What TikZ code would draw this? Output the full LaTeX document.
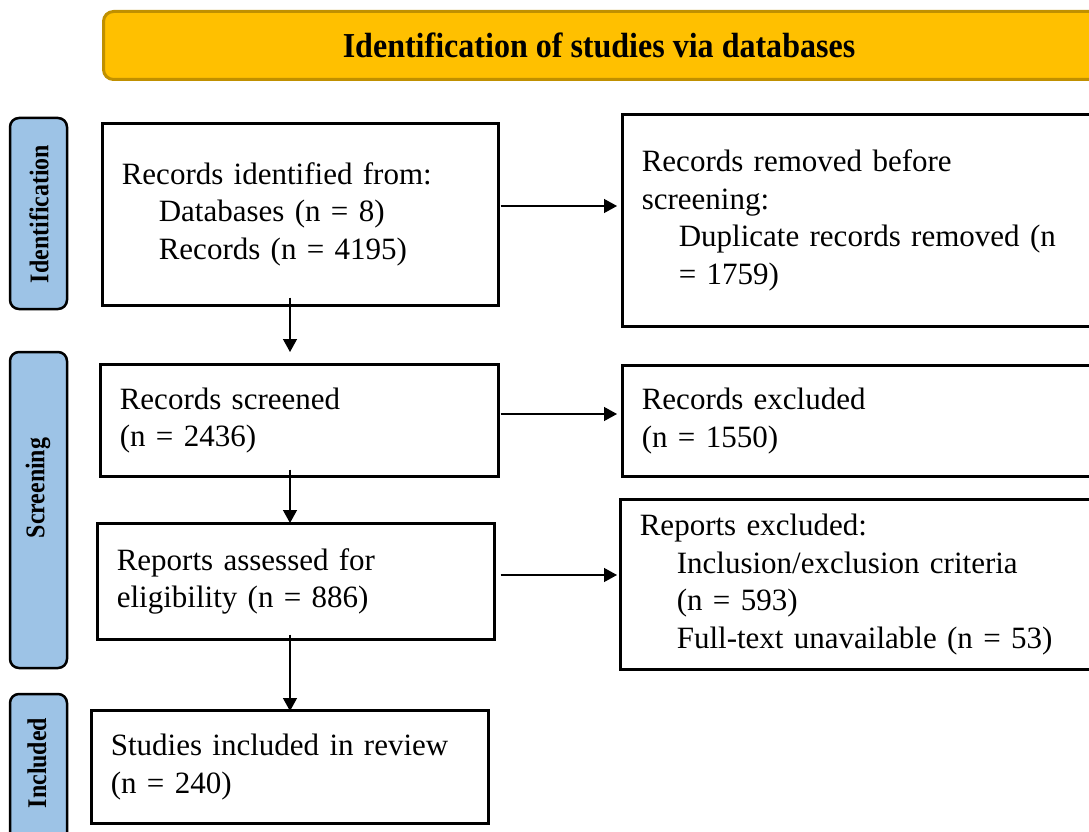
\documentclass[tikz,border=0pt]{standalone}
\usepackage{fontspec}
\setmainfont{Liberation Serif}
\usetikzlibrary{arrows.meta,calc}

\definecolor{bannerfill}{HTML}{FFC000}
\definecolor{bannerline}{HTML}{C09000}
\definecolor{stagefill}{HTML}{9DC3E6}

\tikzset{
  box/.style={draw=black, line width=2.6pt, rectangle, align=left, anchor=north west,
    inner xsep=19.5pt, inner ysep=0pt, font=\fontsize{31}{37.5}\selectfont},
  stagebar/.style={draw=black, fill=stagefill, line width=2.5pt, rounded corners=9pt,
    minimum width=57pt, inner sep=0pt},
  stagelabel/.style={rotate=90, inner sep=0pt, font=\bfseries\fontsize{27}{30}\selectfont},
  flow/.style={line width=1.3pt, -{Triangle[length=13pt,width=14pt]}},
}

\begin{document}
\begin{tikzpicture}[x=1pt, y=-1pt]
  \useasboundingbox (0,0) rectangle (1089,832);
  \clip (0,0) rectangle (1089,832);

  % header banner
  \node[draw=bannerline, fill=bannerfill, line width=3pt, rounded corners=10pt,
        minimum width=1030pt, minimum height=68pt, anchor=north west, inner sep=0pt]
        (banner) at (102,10) {};
  \node[font=\bfseries\fontsize{35}{38}\selectfont, inner sep=0pt] (title) at (599,45)
        {\scalebox{0.915}[1]{Identification of studies via databases}};

  % stage bars on the left
  \node[stagebar, minimum height=191pt] (idbar) at (38.5,213.5) {};
  \node[stagebar, minimum height=316pt] (scbar) at (38.5,510) {};
  \node[stagebar, minimum height=160pt] (inbar) at (38.5,774) {};
  \node[stagelabel] (idlab) at (39,214) {\scalebox{0.885}[1]{Identification}};
  \node[stagelabel] (sclab) at (38,488) {\scalebox{0.885}[1]{Screening}};
  \node[stagelabel] (inlab) at (37,763) {\scalebox{0.885}[1]{Included}};

  % flow boxes
  \node[box, text width=357pt, minimum height=182pt] (ident) at (101,122)
    {Records identified from:\\
     \hspace*{37pt}Databases (n = 8)\\
     \hspace*{37pt}Records (n = 4195)};
  \node[box, text width=450pt, minimum height=212pt] (removed) at (621,113)
    {Records removed before\\
     screening:\\
     \hspace*{37pt}Duplicate records removed (n\\
     \hspace*{37pt}= 1759)};
  \node[box, text width=359pt, minimum height=112pt] (screened) at (99,363)
    {Records screened\\
     (n = 2436)};
  \node[box, text width=450pt, minimum height=111pt] (excluded) at (621,364)
    {Records excluded\\
     (n = 1550)};
  \node[box, text width=358pt, minimum height=116pt] (assessed) at (96,522)
    {Reports assessed for\\
     eligibility (n = 886)};
  \node[box, text width=452pt, minimum height=170pt] (repexcl) at (619,498)
    {Reports excluded:\\
     \hspace*{37pt}Inclusion/exclusion criteria\\
     \hspace*{37pt}(n = 593)\\
     \hspace*{37pt}Full-text unavailable (n = 53)};
  \node[box, text width=358pt, minimum height=113pt] (included) at (90,709)
    {Studies included in review\\
     (n = 240)};

  % connectors
  \coordinate (spine) at (290,0);
  \coordinate (row1) at (0,206);
  \coordinate (row2) at (0,414);
  \coordinate (row3) at (0,575);

  \draw[flow] ($(spine |- ident.south)+(0,-9)$) -- ($(spine |- screened.north)+(0,-11)$);
  \draw[flow] ($(spine |- screened.south)+(0,-8)$) -- ($(spine |- assessed.north)+(0,1)$);
  \draw[flow] ($(spine |- assessed.south)+(0,-6)$) -- ($(spine |- included.north)+(0,2)$);

  \draw[flow] ($(ident.east |- row1)+(1,0)$) -- ($(removed.west |- row1)+(-4,0)$);
  \draw[flow] ($(screened.east |- row2)+(1,0)$) -- ($(excluded.west |- row2)+(-4,0)$);
  \draw[flow] ($(assessed.east |- row3)+(5,0)$) -- ($(repexcl.west |- row3)+(-2,0)$);
\end{tikzpicture}
\end{document}
